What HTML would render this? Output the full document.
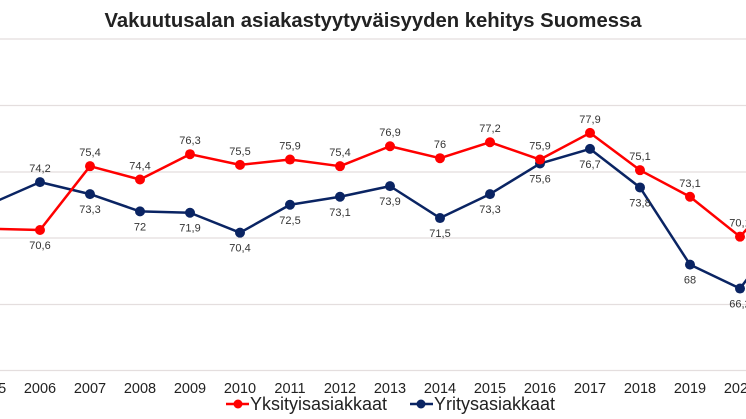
<!DOCTYPE html>
<html><head><meta charset="utf-8"><style>
html,body{margin:0;padding:0;background:#fff;}
svg{display:block;font-family:"Liberation Sans",Arial,sans-serif;}
</style></head><body>
<svg width="746" height="419" viewBox="0 0 746 419" xmlns="http://www.w3.org/2000/svg">
<rect width="746" height="419" fill="#fff"/>
<text x="373" y="27" text-anchor="middle" font-size="20" font-weight="bold" fill="#222" textLength="537" lengthAdjust="spacingAndGlyphs">Vakuutusalan asiakastyytyväisyyden kehitys Suomessa</text>
<g stroke="#e4dede" stroke-width="1.3">
<line x1="0" y1="39" x2="746" y2="39"/>
<line x1="0" y1="105.5" x2="746" y2="105.5"/>
<line x1="0" y1="172" x2="746" y2="172"/>
<line x1="0" y1="238" x2="746" y2="238"/>
<line x1="0" y1="304.5" x2="746" y2="304.5"/>
<line x1="0" y1="370.5" x2="746" y2="370.5"/>
</g>
<g id="chart"></g>
<g font-size="14.5" fill="#222" text-anchor="middle" id="years"></g>
<line x1="226" y1="404" x2="249" y2="404" stroke="#ff0000" stroke-width="2.5"/>
<circle cx="238" cy="404" r="4.5" fill="#ff0000"/>
<text x="250" y="410" font-size="18" fill="#222">Yksityisasiakkaat</text>
<line x1="410" y1="404" x2="433" y2="404" stroke="#0a2463" stroke-width="2.5"/>
<circle cx="421" cy="404" r="4.5" fill="#0a2463"/>
<text x="434" y="410" font-size="18" fill="#222">Yritysasiakkaat</text>
<script>
(function(){
var ns="http://www.w3.org/2000/svg";
function X(yr){return 40+(yr-2006)*50;}
function Y(v){return 238-(v-70)*13.3;}
var red=[[2005,70.7],[2006,70.6],[2007,75.4],[2008,74.4],[2009,76.3],[2010,75.5],[2011,75.9],[2012,75.4],[2013,76.9],[2014,76],[2015,77.2],[2016,75.9],[2017,77.9],[2018,75.1],[2019,73.1],[2020,70.1],[2021,74.3]];
var blue=[[2005,72.55],[2006,74.2],[2007,73.3],[2008,72],[2009,71.9],[2010,70.4],[2011,72.5],[2012,73.1],[2013,73.9],[2014,71.5],[2015,73.3],[2016,75.6],[2017,76.7],[2018,73.8],[2019,68],[2020,66.2],[2021,71.2]];
var g=document.getElementById('chart');
function el(n,a,p){var e=document.createElementNS(ns,n);for(var k in a)e.setAttribute(k,a[k]);(p||g).appendChild(e);return e;}
function series(d,c,above){
 el('polyline',{points:d.map(function(p){return X(p[0])+','+Y(p[1]);}).join(' '),fill:'none',stroke:c,'stroke-width':2.5,'stroke-linejoin':'round'});
 d.forEach(function(p){
  el('circle',{cx:X(p[0]),cy:Y(p[1]),r:5,fill:c});
  if(p[0]<2006||p[0]>2020)return;
  var up=above; if(p[0]==2006)up=!above;
  var t=el('text',{x:X(p[0]),y:Y(p[1])+(up?-10:19),'text-anchor':'middle','font-size':11,fill:'#333'});
  t.textContent=String(p[1]).replace('.',',');
 });
}
series(blue,'#0a2463',false);
series(red,'#ff0000',true);
var yg=document.getElementById('years');
for(var yr=2005;yr<=2020;yr++){var t=el('text',{x:X(yr),y:393},yg);t.textContent=yr;}
})();
</script>
</svg>
</body></html>
